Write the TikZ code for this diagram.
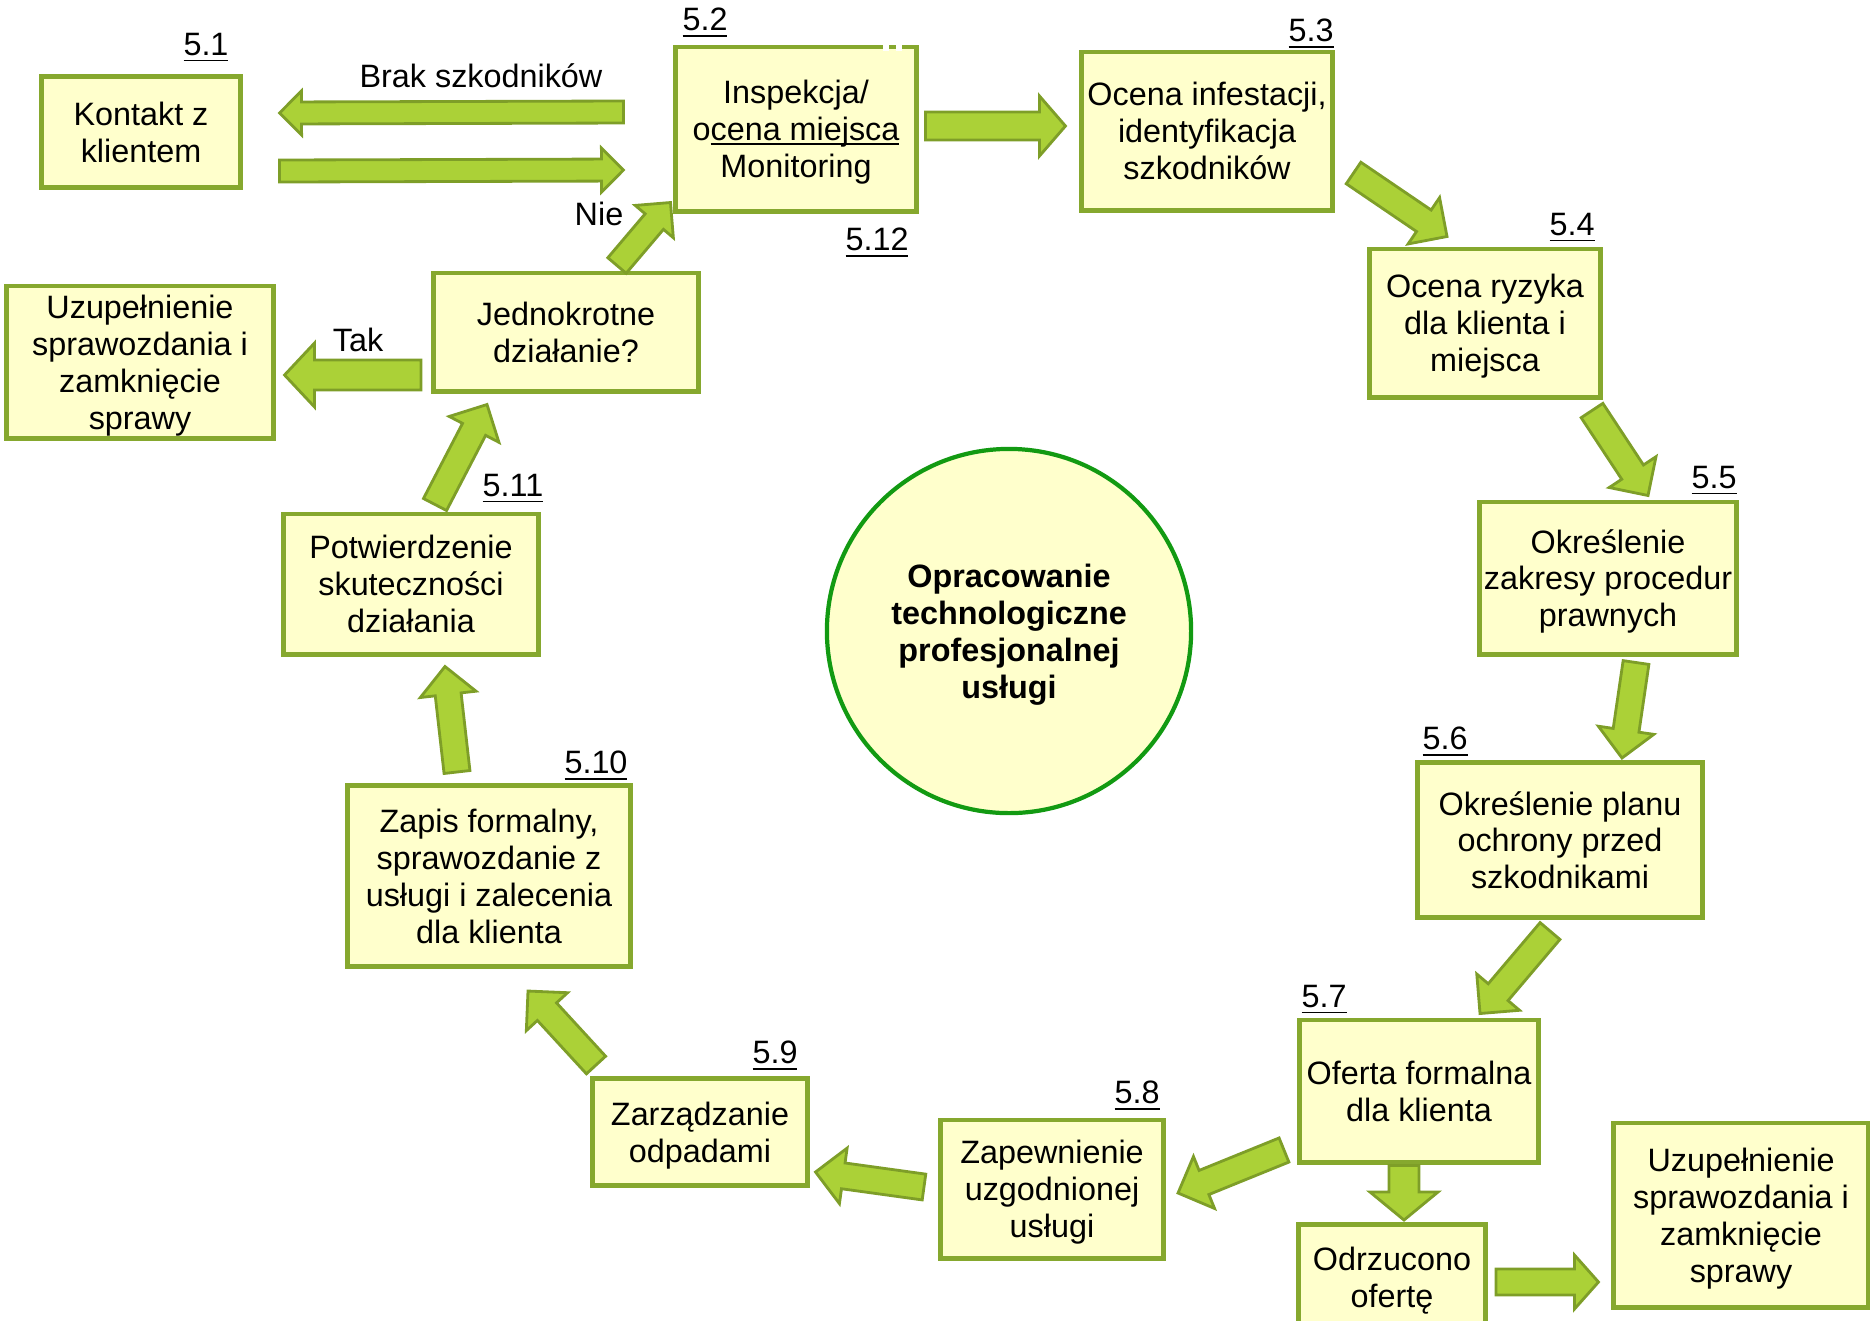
\documentclass[tikz,border=0pt]{standalone}
\usepackage{fontspec}
\setmainfont{Liberation Sans}
\usepackage{tikz}
\usetikzlibrary{calc}

\definecolor{boxfill}{HTML}{FFFFCC}
\definecolor{boxline}{HTML}{86A82E}
\definecolor{arrowfill}{HTML}{ABD137}
\definecolor{arrowline}{HTML}{7E9E28}
\definecolor{circline}{HTML}{129A12}

% line close under the baseline
\newcommand{\lowline}[1]{\setbox0\hbox{#1}\rlap{\rule[-1.1pt]{\wd0}{0.55pt}}\box0}

% block arrow: start, end, half shaft, half head, head length
\newcommand{\flowarrow}[5]{%
    \path (#1) coordinate (fa-s) (#2) coordinate (fa-e);
    \path ($(fa-e)!#5!(fa-s)$) coordinate (fa-h);
    \draw[flow] ($(fa-s)!#3!90:(fa-e)$) -- ($(fa-h)!#3!90:(fa-e)$) -- ($(fa-h)!#4!90:(fa-e)$)
        -- (fa-e) -- ($(fa-h)!#4!-90:(fa-e)$) -- ($(fa-h)!#3!-90:(fa-e)$) -- ($(fa-s)!#3!-90:(fa-e)$) -- cycle;
}

\begin{document}
\begin{tikzpicture}[x=0.01cm, y=-0.01cm, font=\fontsize{9.2}{10.5}\selectfont]
    \tikzstyle{stage}=[rectangle, draw=boxline, fill=boxfill, line width=1.4pt, align=center, inner sep=0pt, text depth=0pt]
    \tikzstyle{numtag}=[inner sep=0pt]
    \tikzstyle{flow}=[fill=arrowfill, draw=arrowline, line width=0.8pt, line join=miter]

    \useasboundingbox (0,0) rectangle (1870,1320);
    \clip (0,0) rectangle (1870,1320);

    % The stages of the cycle
    \node[stage, minimum width=1.98cm, minimum height=1.11cm] (n1) at (141,132) {Kontakt z\\klientem};
    \node[stage, minimum width=2.40cm, minimum height=1.64cm] (n2) at (796,129) {Inspekcja/\\o\lowline{cena miejsca}\\Monitoring};
    \node[stage, minimum width=2.50cm, minimum height=1.58cm] (n3) at (1207,131) {Ocena infestacji,\\identyfikacja\\szkodników};
    \node[stage, minimum width=2.30cm, minimum height=1.48cm] (n4) at (1485,323) {Ocena ryzyka\\dla klienta i\\miejsca};
    \node[stage, minimum width=2.56cm, minimum height=1.52cm] (n5) at (1608,578) {Określenie\\zakresy procedur\\prawnych};
    \node[stage, minimum width=2.84cm, minimum height=1.55cm] (n6) at (1560,840) {Określenie planu\\ochrony przed\\szkodnikami};
    \node[stage, minimum width=2.39cm, minimum height=1.42cm] (n7) at (1419,1091) {Oferta formalna\\dla klienta};
    \node[stage, minimum width=1.87cm, minimum height=1.05cm] (odrz) at (1392,1277) {Odrzucono\\ofertę};
    \node[stage, minimum width=2.54cm, minimum height=1.84cm] (zamk2) at (1741,1215) {Uzupełnienie\\sprawozdania i\\zamknięcie\\sprawy};
    \node[stage, minimum width=2.23cm, minimum height=1.38cm] (n8) at (1052,1189) {Zapewnienie\\uzgodnionej\\usługi};
    \node[stage, minimum width=2.14cm, minimum height=1.07cm] (n9) at (700,1132) {Zarządzanie\\odpadami};
    \node[stage, minimum width=2.82cm, minimum height=1.81cm] (n10) at (489,876) {Zapis formalny,\\sprawozdanie z\\usługi i zalecenia\\dla klienta};
    \node[stage, minimum width=2.54cm, minimum height=1.40cm] (n11) at (411,584) {Potwierdzenie\\skuteczności\\działania};
    \node[stage, minimum width=2.65cm, minimum height=1.18cm] (jedn) at (566,332) {Jednokrotne\\działanie?};
    \node[stage, minimum width=2.66cm, minimum height=1.52cm] (zamk1) at (140,362) {Uzupełnienie\\sprawozdania i\\zamknięcie\\sprawy};

    % gaps in the top edge of 5.2
    \fill[white] (883,43) rectangle (889,51);
    \fill[white] (896,43) rectangle (902,51);

    % centre
    \node[circle, draw=circline, fill=boxfill, line width=1.2pt, minimum size=3.64cm, align=center, text depth=0pt, font=\fontsize{9.2}{10.5}\selectfont\bfseries] (core) at (1009,631) {Opracowanie\\technologiczne\\profesjonalnej\\usługi};

    % Numbers
    \node[numtag] (t1) at (206,48) {\underline{5.1}};
    \node[numtag] (t2) at (705,23) {\underline{5.2}};
    \node[numtag] (t3) at (1311,34) {\underline{5.3}};
    \node[numtag] (t4) at (1572,228) {\underline{5.4}};
    \node[numtag] (t5) at (1714,481) {\underline{5.5}};
    \node[numtag] (t6) at (1445,742) {\underline{5.6}};
    \node[numtag] (t7) at (1324,1000) {\underline{5.7}};
    \node[numtag] (t8) at (1137,1096) {\underline{5.8}};
    \node[numtag] (t9) at (775,1056) {\underline{5.9}};
    \node[numtag] (t10) at (596,766) {\underline{5.10}};
    \node[numtag] (t11) at (513,489) {\underline{5.11}};
    \node[numtag] (t12) at (877,243) {\underline{5.12}};

    % Arrow texts
    \node (brak) at (481,76) {Brak szkodników};
    \node (nie) at (599,214) {Nie};
    \node (tak) at (358,340) {Tak};

    % Arrows between the stages
    \flowarrow{$(n2.west)+(-50,-17)$}{$(n1.east)+(37,-19)$}{1.1mm}{2.2mm}{2.2mm}
    \flowarrow{$(n1.east)+(37,39)$}{$(n2.west)+(-50,41)$}{1.1mm}{2.2mm}{2.2mm}
    \flowarrow{$(jedn.north)+(51,-5)$}{$(n2.south west)+(-3,-11)$}{1.2mm}{2.5mm}{2.5mm}
    \flowarrow{$(n2.east)+(7,-3)$}{$(n3.west)+(-14,-5)$}{1.4mm}{3mm}{2.6mm}
    \flowarrow{$(n3.east)+(19,42)$}{$(n4.north)+(-38,-10)$}{1.3mm}{2.8mm}{2.8mm}
    \flowarrow{$(n4.south)+(107,11)$}{$(n5.north)+(40,-4)$}{1.3mm}{2.8mm}{2.8mm}
    \flowarrow{$(n5.south)+(28,6)$}{$(n6.north)+(62,-2)$}{1.3mm}{2.8mm}{2.8mm}
    \flowarrow{$(n6.south)+(-10,11)$}{$(n7.north)+(61,-4)$}{1.3mm}{2.8mm}{2.8mm}
    \flowarrow{$(n7.west)+(-13,59)$}{$(n8.east)+(12,4)$}{1.3mm}{2.8mm}{2.8mm}
    \flowarrow{$(n8.west)+(-14,-2)$}{$(n9.east)+(6,40)$}{1.3mm}{2.8mm}{2.8mm}
    \flowarrow{$(n9.north)+(-104,-11)$}{$(n10.south)+(39,22)$}{1.3mm}{2.8mm}{2.8mm}
    \flowarrow{$(n10.north)+(-32,-11)$}{$(n11.south)+(34,10)$}{1.3mm}{2.8mm}{2.8mm}
    \flowarrow{$(n11.north)+(24,-7)$}{$(jedn.south)+(-79,11)$}{1.3mm}{2.8mm}{2.8mm}
    \flowarrow{$(jedn.west)+(-10,43)$}{$(zamk1.east)+(9,13)$}{1.5mm}{3.2mm}{3mm}
    \flowarrow{$(n7.south)+(-15,1)$}{$(odrz.north)+(12,-2)$}{1.5mm}{3.4mm}{2.8mm}
    \flowarrow{$(odrz.east)+(8,5)$}{$(zamk2.west)+(-13,67)$}{1.3mm}{2.7mm}{2.4mm}
\end{tikzpicture}
\end{document}
